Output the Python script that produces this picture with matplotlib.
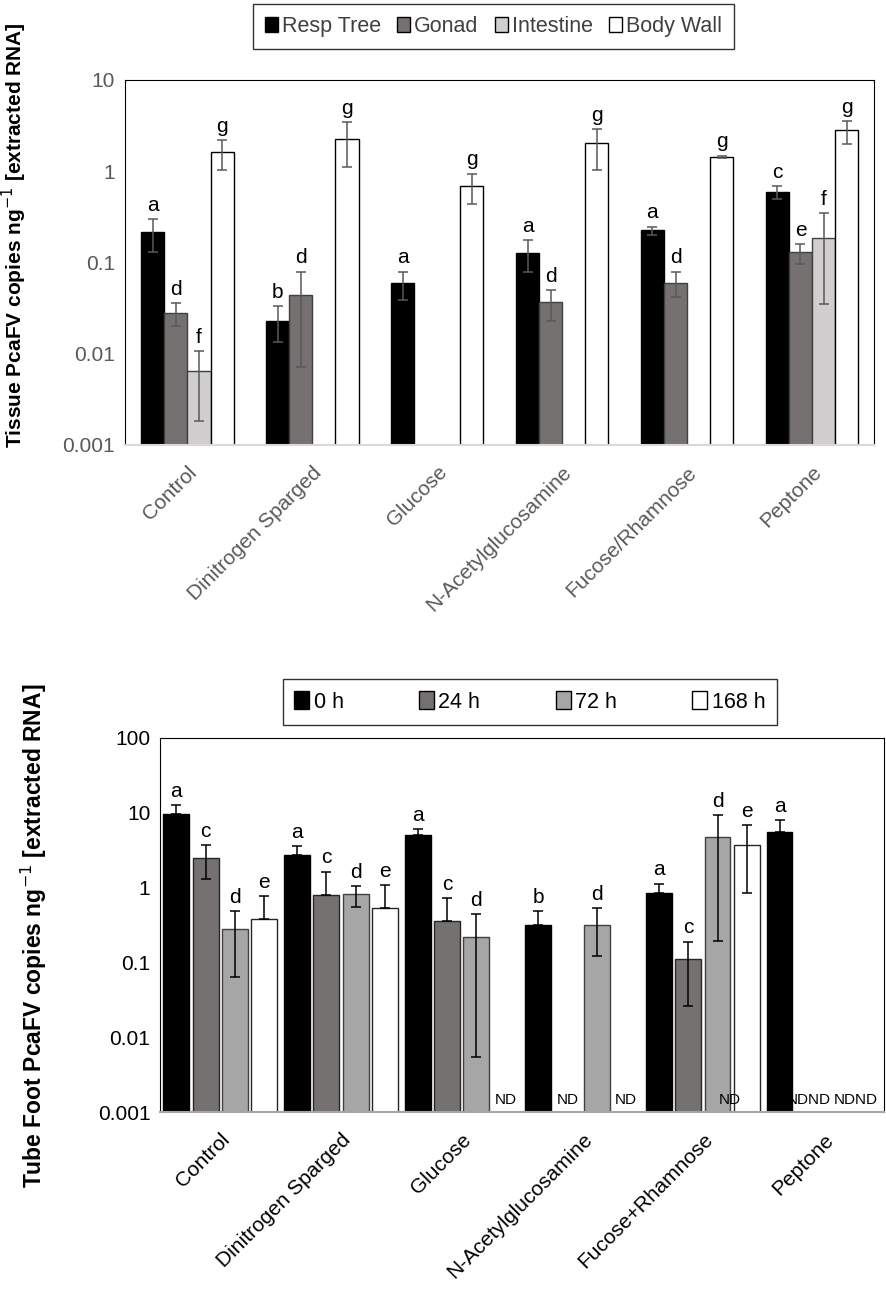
import numpy as np
import matplotlib
matplotlib.use("Agg")
from matplotlib import pyplot as plt
from matplotlib.patches import Patch
from matplotlib.ticker import FixedLocator, NullLocator

plt.rcParams['font.family'] = ['Liberation Sans', 'DejaVu Sans']

# ---- data: tissue panel ----
treatments_top = ['Control', 'Dinitrogen Sparged', 'Glucose', 'N-Acetylglucosamine',
                  'Fucose/Rhamnose', 'Peptone']
tissues = ['Resp Tree', 'Gonad', 'Intestine', 'Body Wall']
nan = np.nan
resp_tree = [0.217, 0.023, 0.059, 0.128, 0.226, 0.594]
resp_lo = [0.13, 0.0134, 0.039, 0.079, 0.20, 0.50]
resp_hi = [0.30, 0.033, 0.079, 0.175, 0.246, 0.685]
gonad = [0.028, 0.044, nan, 0.037, 0.060, 0.129]
gonad_lo = [0.020, 0.0072, nan, 0.023, 0.042, 0.095]
gonad_hi = [0.036, 0.079, nan, 0.050, 0.079, 0.16]
intestine = [0.0065, nan, nan, nan, nan, 0.186]
intestine_lo = [0.0018, nan, nan, nan, nan, 0.035]
intestine_hi = [0.0107, nan, nan, nan, nan, 0.35]
body_wall = [1.61, 2.26, 0.685, 2.01, 1.44, 2.79]
body_lo = [1.02, 1.10, 0.44, 1.04, 1.39, 2.0]
body_hi = [2.18, 3.47, 0.94, 2.9, 1.48, 3.55]
letters_top = [['a', 'd', 'f', 'g'], ['b', 'd', '', 'g'], ['a', '', '', 'g'],
               ['a', 'd', '', 'g'], ['a', 'd', '', 'g'], ['c', 'e', 'f', 'g']]

# ---- data: tube foot panel ----
treatments_bot = ['Control', 'Dinitrogen Sparged', 'Glucose', 'N-Acetylglucosamine',
                  'Fucose+Rhamnose', 'Peptone']
times = ['0 h', '24 h', '72 h', '168 h']
h0 = [9.6, 2.71, 5.0, 0.32, 0.85, 5.6]
h0_hi = [12.6, 3.55, 6.0, 0.49, 1.13, 8.0]
h24 = [2.5, 0.80, 0.36, nan, 0.11, nan]
h24_lo = [1.3, nan, nan, nan, 0.026, nan]
h24_hi = [3.7, 1.64, 0.73, nan, 0.19, nan]
h72 = [0.278, 0.83, 0.22, 0.32, 4.8, nan]
h72_lo = [0.063, 0.556, 0.0054, 0.123, 0.195, nan]
h72_hi = [0.49, 1.06, 0.44, 0.53, 9.2, nan]
h168 = [0.38, 0.53, nan, nan, 3.74, nan]
h168_lo = [nan, nan, nan, nan, 0.85, nan]
h168_hi = [0.76, 1.07, nan, nan, 6.9, nan]
letters_bot = [['a', 'c', 'd', 'e'], ['a', 'c', 'd', 'e'], ['a', 'c', 'd', ''],
               ['b', '', 'd', ''], ['a', 'c', 'd', 'e'], ['a', '', '', '']]
# not-detected labels: (treatment, slot within group, text)
nd_labels = [(2, 3, 'ND'), (3, 1, 'ND'), (3, 3, 'ND'), (4, 2.4, 'ND'),
             (5, 1, 'NDND'), (5, 2.6, 'NDND')]

top_colors = ['#000000', '#767171', '#d0cece', '#ffffff']
bot_colors = ['#000000', '#767171', '#a6a6a6', '#ffffff']


def draw_panel(ax, vals, los, his, letters, colors, width, pitch, errcolor, edge):
    x = np.arange(len(vals[0]))
    for k in range(len(vals)):
        v = np.array(vals[k], dtype=float)
        pos = x + (k - 1.5) * pitch
        ax.bar(pos, v, width=width, color=colors[k], edgecolor=edge[k], linewidth=1,
               zorder=2)
        lo = np.array(los[k], dtype=float)
        hi = np.array(his[k], dtype=float)
        down = np.where(np.isnan(lo), 0, v - lo)
        up = np.where(np.isnan(hi), 0, hi - v)
        ok = ~np.isnan(v)
        ax.errorbar(pos[ok], v[ok], yerr=[down[ok], up[ok]], fmt='none',
                    ecolor=errcolor, elinewidth=1.1, capsize=3.6, capthick=1.1, zorder=3)
        for i in range(len(v)):
            lab = letters[i][k]
            if lab:
                top = hi[i] if not np.isnan(hi[i]) else v[i]
                ax.annotate(lab, (pos[i], top), xytext=(0, 3), textcoords='offset points',
                            ha='center', va='bottom', fontsize=15, zorder=4)
    return x


fig = plt.figure(figsize=(8.86, 12.89), dpi=100)

# ---------- top panel ----------
ax1 = fig.add_axes([0.141, 0.655, 0.846, 0.283])
ax1.set_yscale('log')
x1 = draw_panel(ax1, [resp_tree, gonad, intestine, body_wall],
                [resp_lo, gonad_lo, intestine_lo, body_lo],
                [resp_hi, gonad_hi, intestine_hi, body_hi],
                letters_top, top_colors, 0.185, 0.185, '#595959',
                ['#000000', '#404040', '#404040', '#000000'])
ax1.set_ylim(0.001, 10)
ax1.set_xlim(-0.5, 5.5)
ax1.yaxis.set_major_locator(FixedLocator([0.001, 0.01, 0.1, 1, 10]))
ax1.yaxis.set_minor_locator(NullLocator())
ax1.set_yticklabels(['0.001', '0.01', '0.1', '1', '10'])
ax1.set_xticks(x1)
ax1.set_xticklabels(treatments_top, rotation=45, ha='right', rotation_mode='anchor')
ax1.tick_params(axis='both', length=0, labelsize=15, labelcolor='#595959', pad=7)
ax1.tick_params(axis='x', pad=13)
for s in ['top', 'left', 'right']:
    ax1.spines[s].set_color('black')
ax1.spines['bottom'].set_color('#d9d9d9')
ax1.spines['bottom'].set_linewidth(1.5)
ax1.set_ylabel('Tissue PcaFV copies ng$^{-1}$ [extracted RNA]', fontsize=15,
               fontweight='bold')
ax1.yaxis.set_label_coords(-0.128, 0.575)

h_top = [Patch(facecolor=c, edgecolor='black', linewidth=1) for c in top_colors]
fig.legend(h_top, tissues, loc='center', bbox_to_anchor=(0.557, 0.9795), ncol=4,
           fontsize=15.5, frameon=True, fancybox=False, edgecolor='black',
           handlelength=0.6, handleheight=0.75, handletextpad=0.2, columnspacing=0.75,
           borderpad=0.55, labelcolor='#404040')

# ---------- bottom panel ----------
ax2 = fig.add_axes([0.1806, 0.1373, 0.817, 0.2902])
ax2.set_yscale('log')
x2 = draw_panel(ax2, [h0, h24, h72, h168],
                [[nan] * 6, h24_lo, h72_lo, h168_lo],
                [h0_hi, h24_hi, h72_hi, h168_hi],
                letters_bot, bot_colors, 0.214, 0.243, 'black',
                ['#000000', '#262626', '#404040', '#262626'])
ax2.set_ylim(0.001, 100)
ax2.set_xlim(-0.5, 5.5)
ax2.yaxis.set_major_locator(FixedLocator([0.001, 0.01, 0.1, 1, 10, 100]))
ax2.yaxis.set_minor_locator(NullLocator())
ax2.set_yticklabels(['0.001', '0.01', '0.1', '1', '10', '100'])
ax2.set_xticks(x2)
ax2.set_xticklabels(treatments_bot, rotation=45, ha='right', rotation_mode='anchor')
ax2.tick_params(axis='both', length=0, labelsize=15, labelcolor='black', pad=7)
ax2.tick_params(axis='x', pad=13)
ax2.spines['bottom'].set_color('#a6a6a6')
ax2.spines['bottom'].set_linewidth(1.5)
for g, t, txt in nd_labels:
    ax2.text(x2[g] + (t - 1.5) * 0.243, 0.00115, txt, ha='center', va='bottom',
             fontsize=11, zorder=5)
ax2.set_ylabel('Tube Foot PcaFV copies ng$^{-1}$ [extracted RNA]', fontsize=16.5,
               fontweight='bold')
ax2.yaxis.set_label_coords(-0.153, 0.47)

h_bot = [Patch(facecolor=c, edgecolor='black', linewidth=1) for c in bot_colors]
fig.legend(h_bot, times, loc='center', bbox_to_anchor=(0.598, 0.4554), ncol=4,
           fontsize=15.5, frameon=True, fancybox=False, edgecolor='black',
           handlelength=0.7, handleheight=0.9, handletextpad=0.2, columnspacing=3.5,
           borderpad=0.55)

fig.savefig('out.png', dpi=100)
